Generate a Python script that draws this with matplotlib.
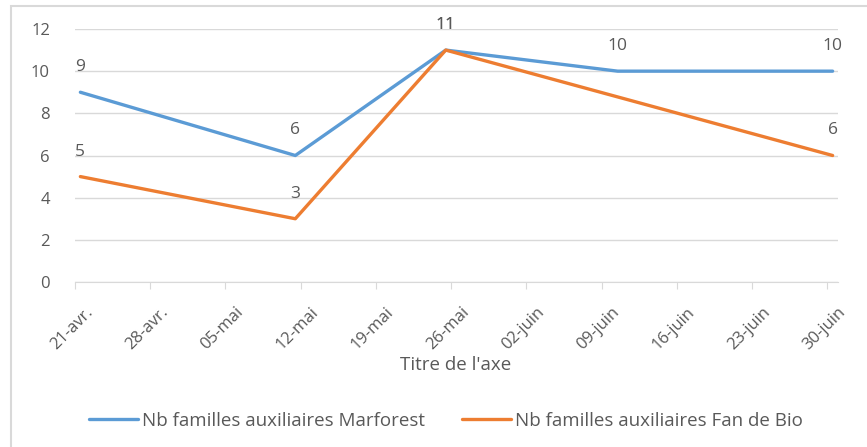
import datetime as dt
import matplotlib
matplotlib.use("Agg")
import matplotlib.pyplot as plt
import matplotlib.transforms as mtransforms
from matplotlib.patches import Rectangle

# data
marforest_dates = ["2019-04-21", "2019-05-11", "2019-05-25", "2019-06-10", "2019-06-30"]
marforest_values = [9, 6, 11, 10, 10]
fanbio_dates = ["2019-04-21", "2019-05-11", "2019-05-25", "2019-06-30"]
fanbio_values = [5, 3, 11, 6]
tick_labels = ["21-avr.", "28-avr.", "05-mai", "12-mai", "19-mai", "26-mai",
               "02-juin", "09-juin", "16-juin", "23-juin", "30-juin"]

BLUE = "#5B9BD5"
ORANGE = "#ED7D31"
GRID = "#D9D9D9"
TXT = "#595959"
plt.rcParams['font.family'] = ['Open Sans', 'DejaVu Sans']


def to_days(strs):
    # Excel date axis: points sit in the middle of the day
    return [dt.datetime.fromisoformat(s) + dt.timedelta(hours=12) for s in strs]


fig = plt.figure(figsize=(8.67, 4.47), dpi=100)
ax = fig.add_axes([75 / 867, 1 - 282 / 447, (838 - 75) / 867, (282 - 29) / 447])

# outer chart border
fig.patches.append(Rectangle((11 / 867, -0.1), 1.2, 1 - 6 / 447 + 0.1,
                             transform=fig.transFigure, fill=False,
                             edgecolor=GRID, lw=1.5))

series = [("Nb familles auxiliaires Marforest", marforest_dates, marforest_values, BLUE),
          ("Nb familles auxiliaires Fan de Bio", fanbio_dates, fanbio_values, ORANGE)]
for name, dates, vals, col in series:
    xs = to_days(dates)
    ax.plot(xs, vals, color=col, lw=2.4, solid_capstyle='round', label=name)
    for x, v in zip(xs, vals):
        ax.annotate(str(v), (x, v), xytext=(0, 18), textcoords='offset points',
                    ha='center', va='center', fontsize=12.5, color=TXT)

start = dt.datetime(2019, 4, 21)
ticks = [start + dt.timedelta(days=7 * i) for i in range(len(tick_labels))]
ax.set_xlim(start, dt.datetime(2019, 7, 1))
ax.set_xticks(ticks)
ax.set_xticklabels(tick_labels, rotation=45, ha='right', rotation_mode='anchor')
ax.set_ylim(0, 12)
ax.set_yticks(range(0, 13, 2))

ax.grid(axis='y', color=GRID, lw=1)
ax.set_axisbelow(True)
for s in ['top', 'right', 'left']:
    ax.spines[s].set_visible(False)
ax.spines['bottom'].set_color(GRID)
ax.tick_params(axis='y', length=0, pad=18, labelsize=12, labelcolor=TXT)
ax.tick_params(axis='x', length=5, color=GRID, pad=11, labelsize=12, labelcolor=TXT)

# shift rotated labels a bit to the right, like Excel does
shift = mtransforms.ScaledTranslation(10 / 100, 0, fig.dpi_scale_trans)
for lab in ax.get_xticklabels():
    lab.set_transform(lab.get_transform() + shift)

ax.set_xlabel("Titre de l'axe", fontsize=13.5, color=TXT)
ax.xaxis.set_label_coords(0.5 + (456 - 456.5) / 763, -(365 - 282) / 253)
ax.xaxis.label.set_va('center')

fig.legend(loc='center', bbox_to_anchor=(446 / 867, 1 - 421 / 447), ncol=2, frameon=False,
           fontsize=13.5, labelcolor=TXT, handlelength=2.6, handletextpad=0.2,
           columnspacing=2.0)

fig.savefig("out.png", dpi=100)
